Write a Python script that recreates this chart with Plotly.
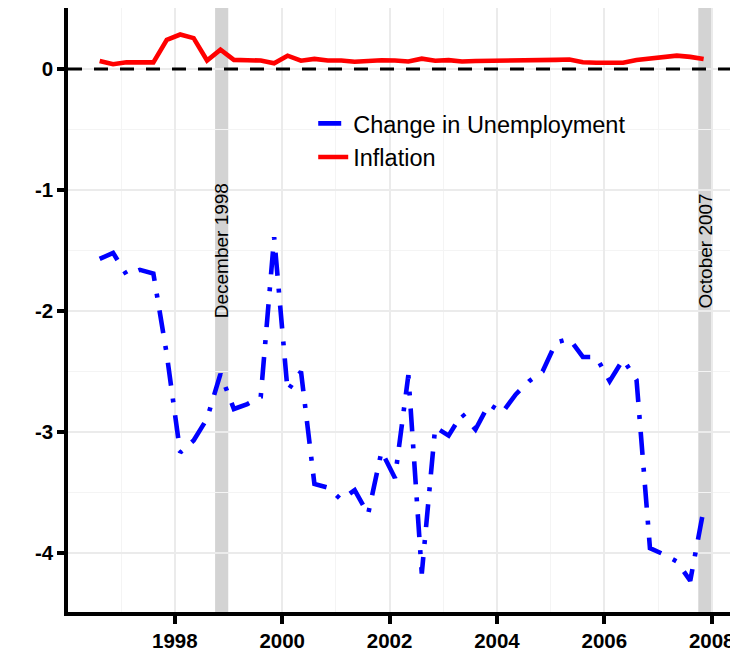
import plotly.graph_objects as go

# quarterly dates (decimal years)
dates = [1996.60, 1996.85,
         1997.10, 1997.35, 1997.60, 1997.85,
         1998.10, 1998.35, 1998.60, 1998.85,
         1999.10, 1999.35, 1999.60, 1999.85,
         2000.10, 2000.35, 2000.60, 2000.85,
         2001.10, 2001.35, 2001.60, 2001.85,
         2002.10, 2002.35, 2002.60, 2002.85,
         2003.10, 2003.35, 2003.60, 2003.85,
         2004.10, 2004.35, 2004.60, 2004.85,
         2005.10, 2005.35, 2005.60, 2005.85,
         2006.10, 2006.35, 2006.60, 2006.85,
         2007.10, 2007.35, 2007.60, 2007.85]

unemployment_change = [-1.57, -1.52, -1.70, -1.66, -1.69, -2.36, -3.17, -3.07, -2.89, -2.52,
                       -2.81, -2.77, -2.71, -1.39, -2.66, -2.50, -3.43, -3.46, -3.56, -3.48,
                       -3.68, -3.16, -3.38, -2.53, -4.17, -2.96, -3.03, -2.85, -2.98, -2.77,
                       -2.84, -2.69, -2.58, -2.50, -2.26, -2.23, -2.38, -2.38, -2.58, -2.40,
                       -2.57, -3.96, -4.01, -4.07, -4.23, -3.64]

inflation = [0.066, 0.039, 0.055, 0.055, 0.055, 0.24, 0.285, 0.255, 0.07, 0.16,
             0.075, 0.072, 0.07, 0.047, 0.11, 0.068, 0.083, 0.07, 0.07, 0.06,
             0.068, 0.072, 0.07, 0.062, 0.085, 0.068, 0.073, 0.062, 0.066, 0.066,
             0.066, 0.066, 0.066, 0.066, 0.075, 0.078, 0.055, 0.052, 0.052, 0.052,
             0.075, 0.087, 0.097, 0.11, 0.10, 0.083]

series_names = ["Change in Unemployment", "Inflation"]

x_tick_vals = [1998, 2000, 2002, 2004, 2006, 2008]
x_tick_text = ["1998", "2000", "2002", "2004", "2006", "2008"]
x_minor_vals = [1997, 1999, 2001, 2003, 2005, 2007]
y_tick_vals = [-4, -3, -2, -1, 0]
y_tick_text = ["-4", "-3", "-2", "-1", "0"]
y_minor_vals = [-3.5, -2.5, -1.5, -0.5, 0.5]

event_labels = ["December 1998", "October 2007"]
event_starts = [1998.75, 2007.75]
event_ends = [1999.0, 2008.0]

FONT = "Liberation Sans, Arial, sans-serif"

fig = go.Figure()
fig.add_trace(go.Scatter(x=dates, y=unemployment_change, mode="lines", name=series_names[0],
                         line=dict(color="#0000ff", width=4.6, dash="23px,13px,4px,13px")))
fig.add_trace(go.Scatter(x=dates, y=inflation, mode="lines", name=series_names[1],
                         line=dict(color="#ff0000", width=4.6)))

shapes = []
for s, e in zip(event_starts, event_ends):
    shapes.append(dict(type="rect", xref="x", yref="paper", x0=s, x1=e, y0=0, y1=1,
                       fillcolor="#d3d3d3", line=dict(width=0), layer="below"))
shapes.append(dict(type="line", xref="paper", yref="y", x0=0, x1=1, y0=0, y1=0,
                   line=dict(color="black", width=3, dash="14px,12px"), layer="above"))

annotations = []
for s, e, lab in zip(event_starts, event_ends, event_labels):
    annotations.append(dict(x=(s + e) / 2, y=-1.5, xref="x", yref="y", text=lab,
                            textangle=-90, showarrow=False,
                            font=dict(family=FONT, size=19, color="black")))

# page body adds an 8px margin, so the figure is 730x654 and offset by 8px
fig.update_layout(
    width=730, height=654,
    margin=dict(l=60, r=0, t=0, b=50),
    paper_bgcolor="white", plot_bgcolor="white",
    shapes=shapes, annotations=annotations,
    showlegend=True,
    legend=dict(x=0.366, y=0.845, xanchor="left", yanchor="top",
                bgcolor="rgba(0,0,0,0)", font=dict(family=FONT, size=23.5, color="black"),
                itemwidth=30, tracegroupgap=0),
    font=dict(family=FONT),
)

fig.update_xaxes(range=[1996.01, 2008.49], tickmode="array", tickvals=x_tick_vals,
                 ticktext=x_tick_text, showline=True, linecolor="black", linewidth=3.5,
                 ticks="outside", ticklen=8, tickwidth=3.5, tickcolor="black",
                 showgrid=True, gridcolor="#ebebeb", gridwidth=1.5, zeroline=False,
                 automargin=False,
                 tickfont=dict(family=FONT, size=20.5, color="black", weight="bold"),
                 minor=dict(tickmode="array", tickvals=x_minor_vals, showgrid=True,
                            gridcolor="#f4f4f4", gridwidth=1))
fig.update_yaxes(range=[-4.488, 0.504], tickmode="array", tickvals=y_tick_vals,
                 ticktext=y_tick_text, showline=True, linecolor="black", linewidth=3.5,
                 ticks="outside", ticklen=7, tickwidth=3.5, tickcolor="black",
                 showgrid=True, gridcolor="#ebebeb", gridwidth=1.5, zeroline=False,
                 automargin=False,
                 tickfont=dict(family=FONT, size=20.5, color="black", weight="bold"),
                 minor=dict(tickmode="array", tickvals=y_minor_vals, showgrid=True,
                            gridcolor="#f4f4f4", gridwidth=1))

fig.write_html("out.html")
